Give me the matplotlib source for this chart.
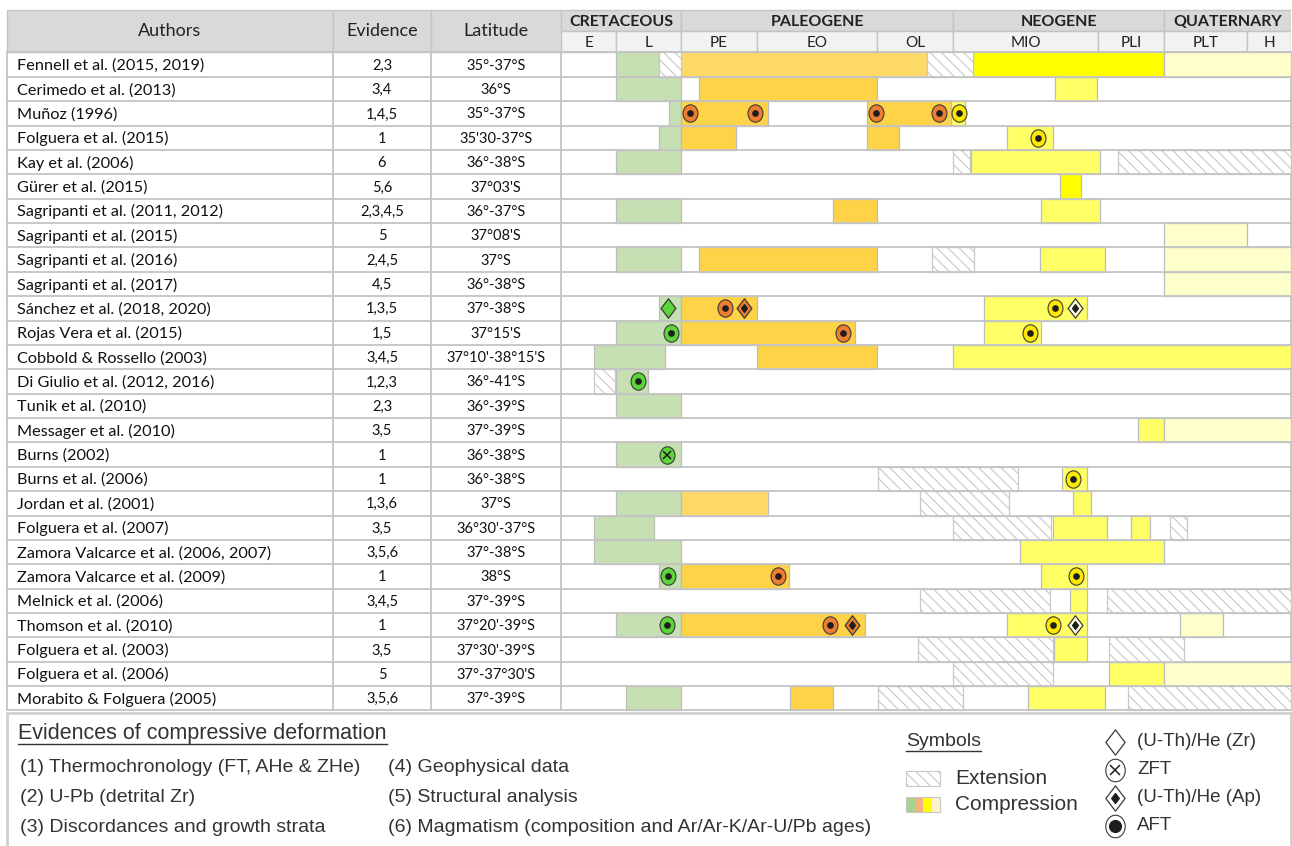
import matplotlib.pyplot as plt
import numpy as np
from matplotlib.patches import Rectangle
from matplotlib.path import Path
from matplotlib.markers import MarkerStyle
from matplotlib.transforms import Affine2D

plt.rcParams['font.family'] = ['Lato', 'DejaVu Sans']
plt.rcParams['hatch.linewidth'] = 0.8

# Table columns
authors = ["Fennell et al. (2015, 2019)", "Cerimedo et al. (2013)", "Muñoz (1996)",
           "Folguera et al. (2015)", "Kay et al. (2006)", "Gürer et al. (2015)",
           "Sagripanti et al. (2011, 2012)", "Sagripanti et al. (2015)",
           "Sagripanti et al. (2016)", "Sagripanti et al. (2017)",
           "Sánchez et al. (2018, 2020)", "Rojas Vera et al. (2015)",
           "Cobbold & Rossello (2003)", "Di Giulio et al. (2012, 2016)",
           "Tunik et al. (2010)", "Messager et al. (2010)", "Burns (2002)",
           "Burns et al. (2006)", "Jordan et al. (2001)", "Folguera et al. (2007)",
           "Zamora Valcarce et al. (2006, 2007)", "Zamora Valcarce et al. (2009)",
           "Melnick et al. (2006)", "Thomson et al. (2010)", "Folguera et al. (2003)",
           "Folguera et al. (2006)", "Morabito & Folguera (2005)"]
evidence = ["2,3", "3,4", "1,4,5", "1", "6", "5,6", "2,3,4,5", "5", "2,4,5", "4,5",
            "1,3,5", "1,5", "3,4,5", "1,2,3", "2,3", "3,5", "1", "1", "1,3,6", "3,5",
            "3,5,6", "1", "3,4,5", "1", "3,5", "5", "3,5,6"]
latitude = ["35°-37°S", "36°S", "35°-37°S", "35'30-37°S", "36°-38°S", "37°03'S",
            "36°-37°S", "37°08'S", "37°S", "36°-38°S", "37°-38°S", "37°15'S",
            "37°10'-38°15'S", "36°-41°S", "36°-39°S", "37°-39°S", "36°-38°S",
            "36°-38°S", "37°S", "36°30'-37°S", "37°-38°S", "38°S", "37°-39°S",
            "37°20'-39°S", "37°30'-39°S", "37°-37°30'S", "37°-39°S"]

# Time scale (Ma)
periods = ["CRETACEOUS", "PALEOGENE", "NEOGENE", "QUATERNARY"]
period_limits = [145, 66, 23, 2.6, 0]
epochs = ["E", "L", "PE", "EO", "OL", "MIO", "PLI", "PLT", "H"]
epoch_limits = [145, 100, 66, 56, 34, 23, 5.3, 2.6, 0.01, 0]

# compression intervals: (row, from Ma, to Ma, colour)
compression = [
    (0, 100, 77.3, "cret"), (0, 66, 26.7, "pal_l"), (0, 20.6, 2.6, "neo_b"), (0, 2.6, 0, "qua"),
    (1, 100, 66, "cret"), (1, 63.6, 34, "pal"), (1, 10.6, 5.4, "neo"),
    (2, 72.2, 66, "cret"), (2, 66, 54, "pal"), (2, 35.9, 23.3, "pal"), (2, 23.3, 21.5, "neo"),
    (3, 77.3, 66, "cret"), (3, 66, 58.8, "pal"), (3, 35.9, 30.8, "pal"), (3, 16.4, 10.8, "neo"),
    (4, 100, 66, "cret"), (4, 20.8, 5.2, "neo"),
    (5, 9.9, 7.4, "neo_b"),
    (6, 100, 66, "cret"), (6, 42, 34, "pal"), (6, 12.2, 5.2, "neo"),
    (7, 2.6, 0.01, "qua"),
    (8, 100, 66, "cret"), (8, 63.6, 34, "pal"), (8, 12.4, 5.0, "neo"), (8, 2.6, 0, "qua"),
    (9, 2.6, 0, "qua"),
    (10, 77.6, 66, "cret"), (10, 66, 56, "pal"), (10, 19.2, 6.7, "neo"),
    (11, 100, 66, "cret"), (11, 66, 38.1, "pal"), (11, 19.2, 12.3, "neo"),
    (12, 118.3, 74.4, "cret"), (12, 56, 34, "pal"), (12, 23, 0, "neo"),
    (13, 100, 83.2, "cret"),
    (14, 100, 66, "cret"),
    (15, 3.67, 2.6, "neo"), (15, 2.6, 0, "qua"),
    (16, 100, 66, "cret"),
    (17, 9.65, 6.7, "neo"),
    (18, 100, 66, "cret"), (18, 66, 54, "pal_l"), (18, 8.3, 6.1, "neo"),
    (19, 118.3, 80, "cret"), (19, 10.8, 4.95, "neo"), (19, 3.94, 3.16, "neo"),
    (20, 118.3, 66, "cret"), (20, 14.8, 2.6, "neo"),
    (21, 77.6, 66, "cret"), (21, 66, 50.1, "pal"), (21, 12.2, 6.7, "neo"),
    (22, 8.7, 6.6, "neo"),
    (23, 100, 66, "cret"), (23, 66, 36.2, "pal"), (23, 16.4, 6.6, "neo"), (23, 2.1, 0.77, "qua"),
    (24, 10.7, 6.7, "neo"),
    (25, 4.85, 2.6, "neo"), (25, 2.6, 0, "qua"),
    (26, 94.6, 66, "cret"), (26, 50, 42, "pal"), (26, 13.8, 5.0, "neo"),
]
# extension intervals: (row, from Ma, to Ma)
extension = [
    (0, 77.3, 66), (0, 26.7, 20.6), (4, 23, 20.9), (4, 4.5, 0), (8, 26, 20.4),
    (13, 118.3, 100.5), (17, 33.8, 15.1), (18, 27.8, 16.2), (19, 23, 11.0),
    (19, 2.42, 1.88), (22, 27.8, 11.1), (22, 4.95, 0), (24, 28, 10.8),
    (24, 4.85, 1.97), (25, 23, 10.8), (26, 33.9, 21.8), (26, 4.08, 0),
]
# dated samples: (row, age Ma, method, colour)
samples = [
    (2, 64.8, "AFT", "o"), (2, 56.2, "AFT", "o"), (2, 34.1, "AFT", "o"), (2, 25.0, "AFT", "o"),
    (2, 22.3, "AFT", "y"), (3, 12.6, "AFT", "y"),
    (10, 72.7, "ZHe", "g"), (10, 60.2, "AFT", "o"), (10, 57.7, "AHe", "o"),
    (10, 10.6, "AFT", "y"), (10, 8.1, "AHe", "w"),
    (11, 71.4, "AFT", "g"), (11, 40.3, "AFT", "o"), (11, 13.6, "AFT", "y"),
    (13, 88.7, "AFT", "g"), (16, 73.1, "ZFT", "g"), (17, 8.3, "AFT", "y"),
    (21, 72.7, "AFT", "g"), (21, 52.1, "AFT", "o"), (21, 8.0, "AFT", "y"),
    (23, 73.4, "AFT", "g"), (23, 42.6, "AFT", "o"), (23, 38.5, "AHe", "o"),
    (23, 10.8, "AFT", "y"), (23, 8.05, "AHe", "w"),
]

evidences = ["(1) Thermochronology (FT, AHe & ZHe)", "(2) U-Pb (detrital Zr)",
             "(3) Discordances and growth strata", "(4) Geophysical data",
             "(5) Structural analysis", "(6) Magmatism (composition and Ar/Ar-K/Ar-U/Pb ages)"]
symbol_names = ["(U-Th)/He (Zr)", "ZFT", "(U-Th)/He (Ap)", "AFT"]

bar_colors = {"cret": "#c6e0b4", "pal": "#ffd347", "pal_l": "#ffd966",
              "neo": "#ffff66", "neo_b": "#ffff00", "qua": "#ffffcc"}
mark_colors = {"o": "#ed7d31", "g": "#5cd43a", "y": "#ffe800", "w": "#fffbe0"}
grid = "#c4c4c4"

# layout (pixels)
W, H = 1292, 846
top, sub, body = 10, 31, 52.5
row_h = (710.5 - body) / len(authors)
col_x = [7, 333, 431, 561, 1291]
# schematic column widths of the epochs (px), oldest first
epoch_w = [55, 65, 76, 120, 76, 145, 66, 83, 44]

ages_asc = np.array(epoch_limits[::-1], dtype=float)
pos_asc = np.concatenate([[0], np.cumsum(epoch_w[::-1])]).astype(float)


def fwd(a):
    return np.interp(a, ages_asc, pos_asc)


def inv(p):
    return np.interp(p, pos_asc, ages_asc)


fig = plt.figure(figsize=(W / 100, H / 100), dpi=100)
ax = fig.add_axes([0, 0, 1, 1])
ax.set_xlim(0, W)
ax.set_ylim(H, 0)
ax.axis("off")

tl = fig.add_axes([col_x[3] / W, 0, (col_x[4] - col_x[3]) / W, 1], zorder=2)
tl.set_xscale("function", functions=(fwd, inv))
tl.set_xlim(145, 0)
tl.set_ylim(H, 0)
tl.axis("off")
tl.patch.set_alpha(0)

# header cells
for i in range(3):
    ax.add_patch(Rectangle((col_x[i], top), col_x[i + 1] - col_x[i], body - top,
                           fc="#d9d9d9", ec=grid, lw=1))
ax.text(170, 31, "Authors", ha="center", va="center", fontsize=13, color="#222222")
ax.text(382, 31, "Evidence", ha="center", va="center", fontsize=13, color="#222222")
ax.text(496, 31, "Latitude", ha="center", va="center", fontsize=13, color="#222222")

for i, name in enumerate(periods):
    a0, a1 = period_limits[i], period_limits[i + 1]
    tl.barh(top + (sub - top) / 2, a1 - a0, left=a0, height=sub - top,
            color="#d9d9d9", edgecolor=grid, lw=1)
    tl.text(inv((fwd(a0) + fwd(a1)) / 2), top + (sub - top) / 2 + 1, name, ha="center",
            va="center", fontsize=11.5, fontweight="bold", color="#222222")
for i, name in enumerate(epochs):
    a0, a1 = epoch_limits[i], epoch_limits[i + 1]
    tl.barh(sub + (body - sub) / 2, a1 - a0, left=a0, height=body - sub,
            color="#f2f2f2", edgecolor=grid, lw=1)
    tl.text(inv((fwd(a0) + fwd(a1)) / 2), sub + (body - sub) / 2 + 1, name, ha="center",
            va="center", fontsize=11, color="#222222")

# body text
for i in range(len(authors)):
    yc = body + (i + 0.5) * row_h
    ax.text(17, yc + 1, authors[i], ha="left", va="center", fontsize=11.7, color="#111111")
    ax.text(382, yc + 1, evidence[i], ha="center", va="center", fontsize=10.5, color="#111111")
    ax.text(496, yc + 1, latitude[i], ha="center", va="center", fontsize=10.5, color="#111111")

# body grid
for i in range(len(authors) + 1):
    y = body + i * row_h
    ax.plot([col_x[0], col_x[3]], [y, y], color=grid, lw=1.3)
    tl.axhline(y, color=grid, lw=1.3, zorder=4)
for x in col_x:
    ax.plot([x, x], [body, body + len(authors) * row_h], color=grid, lw=1.3)

# bars
for r, a0, a1, c in compression:
    tl.barh(body + (r + 0.5) * row_h, a1 - a0, left=a0, height=row_h,
            color=bar_colors[c], edgecolor="#bcbcbc", lw=0.9, zorder=2)
for r, a0, a1 in extension:
    tl.barh(body + (r + 0.5) * row_h, a1 - a0, left=a0, height=row_h,
            color="white", edgecolor="#c8c8c8", hatch="\\\\\\", lw=0.9, zorder=2)

# symbol markers
ell = MarkerStyle(Path.unit_circle().transformed(Affine2D().scale(0.86, 1)))
dia = MarkerStyle(Path([(0, 1), (0.76, 0), (0, -1), (-0.76, 0), (0, 1)],
                       [1, 2, 2, 2, 79]))


def draw_symbol(axis, x, y, kind, fc, size=1.0, dot=3.8):
    if kind in ("AFT", "ZFT"):
        axis.plot(x, y, marker=ell, ms=12.5 * size, mfc=fc, mec="#3a3a3a", mew=0.8, zorder=5)
        if kind == "AFT":
            axis.plot(x, y, marker="o", ms=dot * size, color="#1e1e1e", zorder=6)
        else:
            axis.plot(x, y, marker="x", ms=5.5 * size, mec="#1e1e1e", mew=1.1, zorder=6)
    else:
        axis.plot(x, y, marker=dia, ms=14 * size, mfc=fc, mec="#3a3a3a", mew=0.9, zorder=5)
        if kind == "AHe":
            axis.plot(x, y, marker=dia, ms=5.5 * size, color="#1e1e1e", zorder=6)


for r, age, kind, c in samples:
    draw_symbol(tl, age, body + (r + 0.5) * row_h, kind, mark_colors[c])

# legend box
ax.add_patch(Rectangle((7, 713), 1284, 140, fc="white", ec="#d0d0d0", lw=2))
leg_font = ["Liberation Sans Narrow", "Liberation Sans", "DejaVu Sans"]
t1 = ax.text(18, 733, "Evidences of compressive deformation", fontsize=15.5,
             family=leg_font, ha="left", va="center", color="#333333")
for i, s in enumerate(evidences):
    ax.text(20 + 368 * (i // 3), 767 + 30.5 * (i % 3), s, fontsize=14,
            family=leg_font, ha="left", va="center", color="#333333")

sym_font = ["Liberation Sans", "DejaVu Sans"]
t2 = ax.text(906, 742, "Symbols", fontsize=14, family=sym_font, ha="left",
             va="center", color="#333333")
ax.add_patch(Rectangle((906, 771), 34, 15, fc="white", ec="#c8c8c8", hatch="\\\\\\", lw=0.8))
ax.text(955, 779, "Extension", fontsize=15, family=sym_font, ha="left", va="center",
        color="#333333")
for k, c in enumerate(["#a9d18e", "#f4b183", "#ffff00", "#fff2cc"]):
    ax.add_patch(Rectangle((906 + k * 8.5, 797), 8.5, 15, fc=c, ec="none"))
ax.add_patch(Rectangle((906, 797), 34, 15, fc="none", ec="#c8c8c8", lw=0.8))
ax.text(955, 805, "Compression", fontsize=15, family=sym_font, ha="left", va="center",
        color="#333333")
for i, (s, kind) in enumerate(zip(symbol_names, ["ZHe", "ZFT", "AHe", "AFT"])):
    y = 742 + 28 * i
    draw_symbol(ax, 1115, y, kind, "white", size=1.3, dot=6.5)
    ax.text(1137, y, s, fontsize=13.5, family=sym_font, ha="left", va="center",
            color="#333333")

# underline legend titles
fig.canvas.draw()
for t in (t1, t2):
    bb = t.get_window_extent().transformed(ax.transData.inverted())
    ax.plot([bb.x0, bb.x1], [bb.y0 + 1, bb.y0 + 1], color="#333333", lw=1)

fig.savefig("out.png", dpi=100)
